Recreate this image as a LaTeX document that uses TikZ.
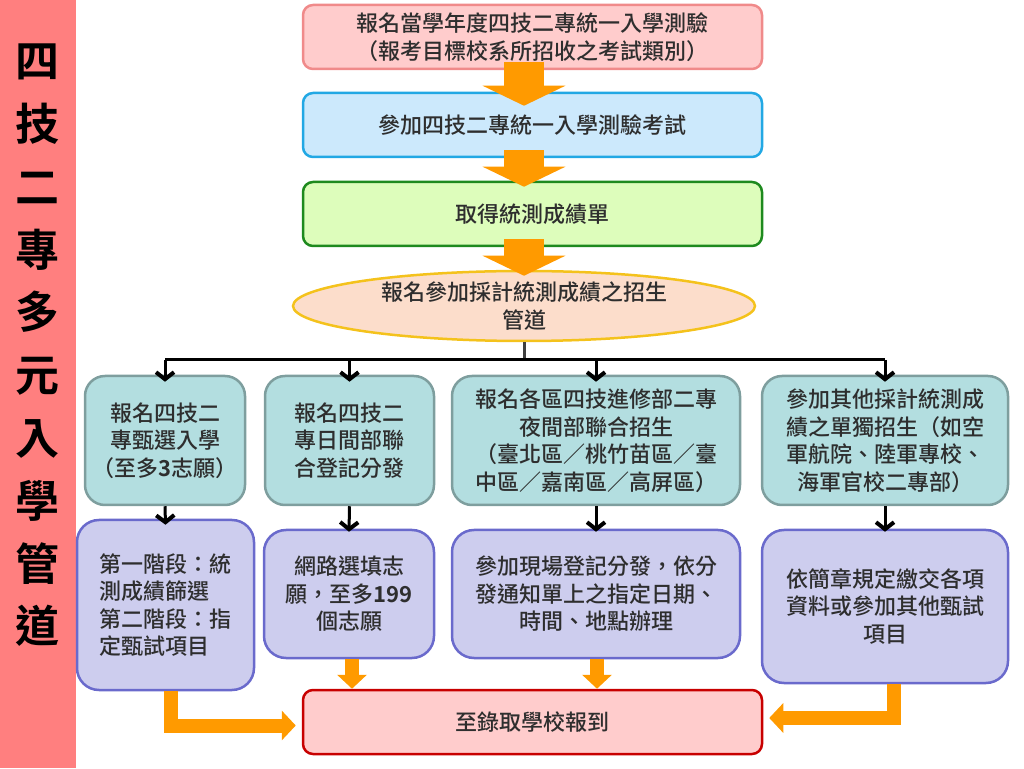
\documentclass[tikz,border=0pt]{standalone}
\usepackage{fontspec}
\setmainfont{Noto Sans CJK TC Medium}[BoldFont={Noto Sans CJK TC Bold}]
\usetikzlibrary{shapes.geometric,arrows.meta}

\definecolor{barred}{HTML}{FF7F7F}
\definecolor{txtgray}{HTML}{2E2E2E}
\definecolor{pinkfill}{HTML}{FFCCCC}
\definecolor{pinkline}{HTML}{F08A8A}
\definecolor{bluefill}{HTML}{CCE9FC}
\definecolor{blueline}{HTML}{22A8E4}
\definecolor{greenfill}{HTML}{DDFDBB}
\definecolor{greenline}{HTML}{1E8A1E}
\definecolor{peachfill}{HTML}{FCDDCB}
\definecolor{goldline}{HTML}{F4C21C}
\definecolor{tealfill}{HTML}{B3DEE0}
\definecolor{tealline}{HTML}{7E9E9E}
\definecolor{lavfill}{HTML}{CDCDEE}
\definecolor{lavline}{HTML}{6A6ACC}
\definecolor{redline}{HTML}{C80000}
\definecolor{arroworange}{HTML}{FF9A00}

\tikzset{
  box/.style={draw, line width=2.5pt, inner sep=0pt, align=center, text=txtgray,
    font=\fontsize{22}{27.5}\selectfont},
  wide/.style={box, rounded corners=10pt, minimum width=459pt, minimum height=64pt},
  route/.style={box, draw=tealline, fill=tealfill, rounded corners=20pt, minimum height=129pt},
  task/.style={box, draw=lavline, fill=lavfill, rounded corners=22pt},
  bigarrow/.style={arroworange, line width=40pt, -{Triangle[length=20pt,width=82pt]}},
  smallarrow/.style={arroworange, line width=14pt, -{Triangle[length=14pt,width=29pt]}},
  feed/.style={line width=3pt, -{Straight Barb[length=7pt,width=18pt,line width=4pt]}}
}

\begin{document}
\begin{tikzpicture}[x=1pt,y=1pt]
\useasboundingbox (0,0) rectangle (1024,768);

% Title bar on the left
\fill[barred] (0,0) rectangle (76,768);
\node[font=\fontsize{44}{62.8}\selectfont\bfseries, align=center] (title) at (38,422.5)
  {四\\技\\二\\專\\多\\元\\入\\學\\管\\道};

% Main steps
\node[wide, draw=pinkline, fill=pinkfill] (signup) at (532.5,731)
  {報名當學年度四技二專統一入學測驗\\（報考目標校系所招收之考試類別）};
\node[wide, draw=blueline, fill=bluefill] (exam) at (532.5,643) {參加四技二專統一入學測驗考試};
\node[wide, draw=greenline, fill=greenfill] (score) at (532.5,554) {取得統測成績單};
\node[box, ellipse, draw=goldline, fill=peachfill, minimum width=462pt, minimum height=70pt] (channel)
  at (524,462) {報名參加採計統測成績之招生\\管道};

% Block arrows
\draw[bigarrow] ([yshift=8pt]channel.north |- signup.south) -- ([yshift=-14pt]channel.north |- exam.north);
\draw[bigarrow] ([yshift=8pt]channel.north |- exam.south) -- ([yshift=-6pt]channel.north |- score.north);
\draw[bigarrow] ([yshift=8pt]channel.north |- score.south) -- ([yshift=-6pt]channel.north);

% Four routes
\node[route, minimum width=160pt] (star) at (165,327.5)
  {報名四技二\\專甄選入學\\（至多\textbf{3}志願）};
\node[route, minimum width=169pt] (day) at (349.5,327.5)
  {報名四技二\\專日間部聯\\合登記分發};
\node[route, minimum width=288pt] (night) at (596,327.5)
  {報名各區四技進修部二專\\夜間部聯合招生\\（臺北區／桃竹苗區／臺\\中區／嘉南區／高屏區）};
\node[route, minimum width=246pt] (other) at (885,327.5)
  {參加其他採計統測成\\績之單獨招生（如空\\軍航院、陸軍專校、\\海軍官校二專部）};

% Bus from the ellipse
\coordinate (bus) at (528,408);
\draw[line width=3pt, black!75] (channel.south) -- (channel.south |- bus);
\draw[line width=3pt] (star.north |- bus) -- (other.north |- bus);
\foreach \r in {star,day,night,other}
  \draw[feed] (\r.north |- bus) -- ([yshift=-7pt]\r.north);

% What each route asks
\node[task, align=left, minimum width=177pt, minimum height=170pt] (stage) at (165.5,163)
  {第一階段：統\\測成績篩選\\第二階段：指\\定甄試項目};
\node[task, minimum width=170pt, minimum height=128pt] (online) at (349,174)
  {網路選填志\\願，至多\textbf{199}\\個志願};
\node[task, minimum width=288pt, minimum height=128pt] (onsite) at (596,174)
  {參加現場登記分發，依分\\發通知單上之指定日期、\\時間、地點辦理};
\node[task, minimum width=246pt, minimum height=153pt] (papers) at (885,161.5)
  {依簡章規定繳交各項\\資料或參加其他甄試\\項目};

\draw[feed] (star.south) -- ([yshift=-6pt]stage.north);
\draw[feed] (day.south) -- ([yshift=-3pt]online.north);
\draw[feed] (night.south) -- ([yshift=-3pt]onsite.north);
\draw[feed] (other.south) -- ([yshift=-3pt]papers.north);

% Final step
\node[wide, draw=redline, fill=pinkfill] (report) at (532.5,46) {至錄取學校報到};

\draw[smallarrow] ([xshift=3pt]online.south) -- ([xshift=3pt]online.south |- report.north);
\draw[smallarrow] ([xshift=1pt]onsite.south) -- ([xshift=1pt]onsite.south |- report.north);
\draw[smallarrow] ([xshift=5.5pt]stage.south) |- ([xshift=-6pt,yshift=-3.5pt]report.west);
\draw[smallarrow] ([xshift=8.5pt]papers.south) |- ([xshift=6pt,yshift=4pt]report.east);
\end{tikzpicture}
\end{document}
